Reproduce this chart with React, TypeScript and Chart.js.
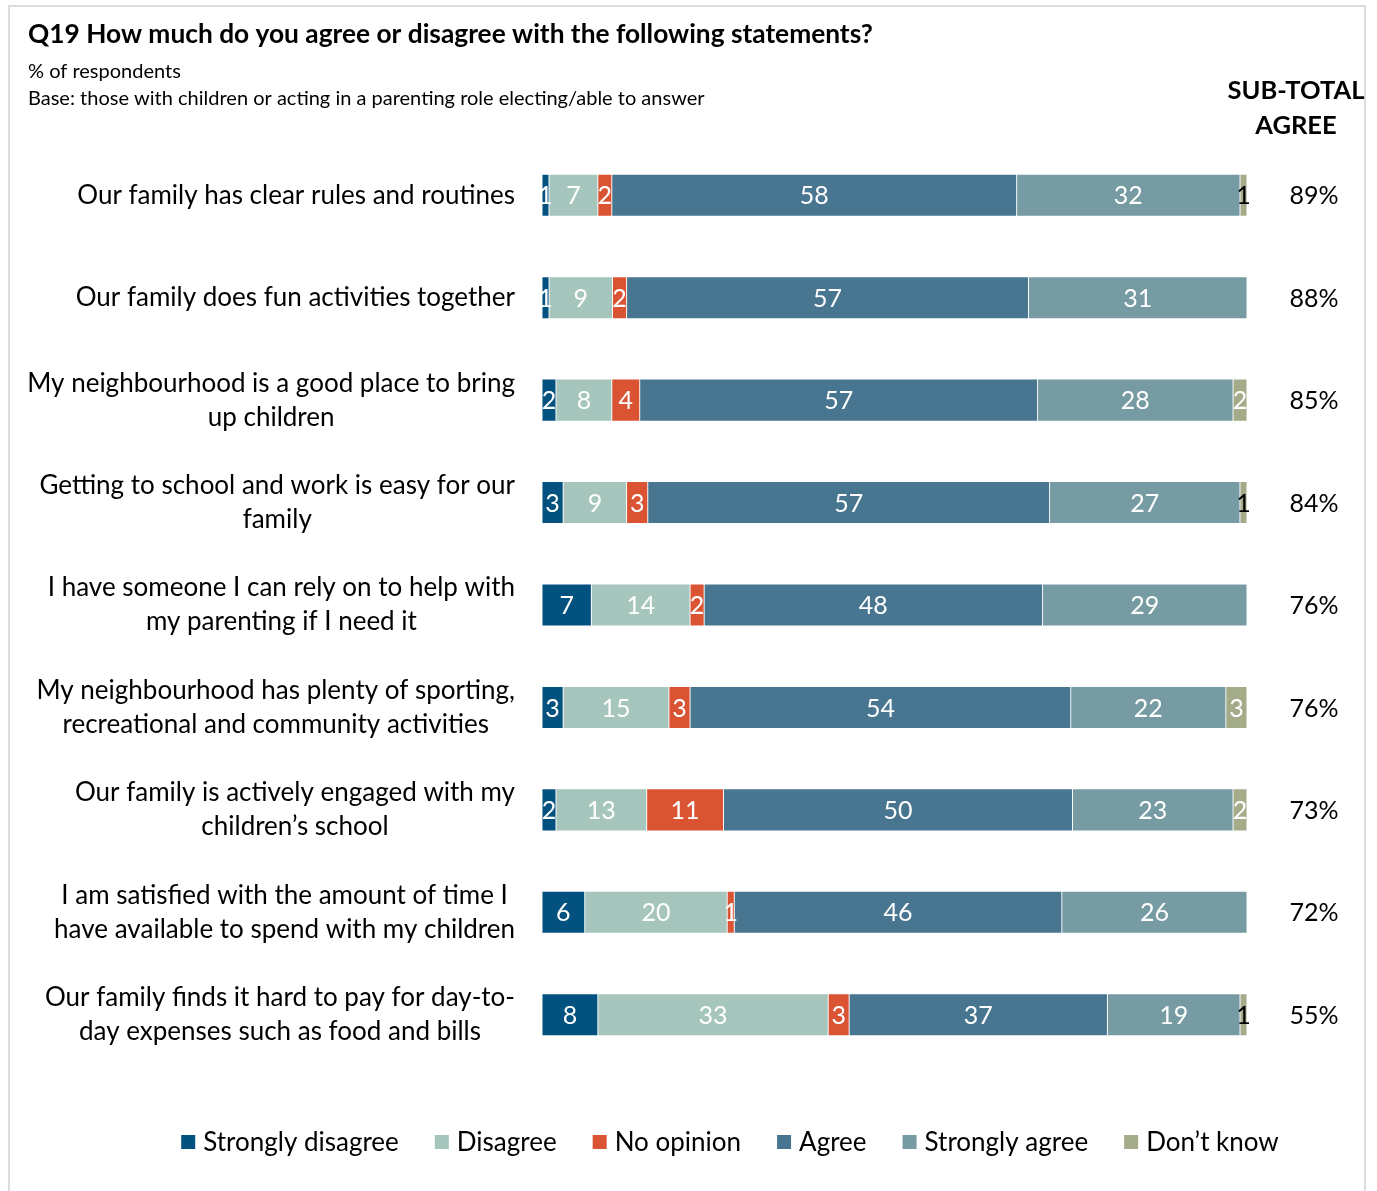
import React, { useEffect, useRef } from "react";
import { Chart, registerables } from "chart.js";

Chart.register(...registerables);

const categories: string[][] = [
  ["Our family has clear rules and routines"],
  ["Our family does fun activities together"],
  ["My neighbourhood is a good place to bring", "up children"],
  ["Getting to school and work is easy for our", "family"],
  ["I have someone I can rely on to help with", "my parenting if I need it"],
  ["My neighbourhood has plenty of sporting,", "recreational and community activities"],
  ["Our family is actively engaged with my", "children’s school"],
  ["I am satisfied with the amount of time I", "have available to spend with my children"],
  ["Our family finds it hard to pay for day-to-", "day expenses such as food and bills"],
];

const seriesNames = ["Strongly disagree", "Disagree", "No opinion", "Agree", "Strongly agree", "Don’t know"];
const stronglyDisagree = [1, 1, 2, 3, 7, 3, 2, 6, 8];
const disagree = [7, 9, 8, 9, 14, 15, 13, 20, 33];
const noOpinion = [2, 2, 4, 3, 2, 3, 11, 1, 3];
const agree = [58, 57, 57, 57, 48, 54, 50, 46, 37];
const stronglyAgree = [32, 31, 28, 27, 29, 22, 23, 26, 19];
const dontKnow = [1, 0, 2, 1, 0, 3, 2, 0, 1];
const subTotalAgree = ["89%", "88%", "85%", "84%", "76%", "76%", "73%", "72%", "55%"];

const titleText = "Q19 How much do you agree or disagree with the following statements?";
const subtitle1 = "% of respondents";
const subtitle2 = "Base: those with children or acting in a parenting role electing/able to answer";
const headerLines = ["SUB-TOTAL", "AGREE"];

const colors = ["#03517F", "#A5C5BD", "#DA5434", "#487690", "#769BA2", "#A3AB89"];
const FONT = "Lato, 'Open Sans', sans-serif";

export default function App() {
  const ref = useRef<HTMLCanvasElement | null>(null);

  useEffect(() => {
    const canvas = ref.current;
    if (!canvas) return;
    const raw = [stronglyDisagree, disagree, noOpinion, agree, stronglyAgree, dontKnow];
    const totals = categories.map((_, i) => raw.reduce((s, arr) => s + arr[i], 0));
    const datasets = raw.map((arr, k) => ({
      label: seriesNames[k],
      data: arr.map((v, i) => (v / totals[i]) * 100),
      rawValues: arr,
      backgroundColor: colors[k],
      borderColor: "rgba(255,255,255,0.45)",
      borderWidth: 0.8,
      borderSkipped: false,
      barThickness: 42,
    }));

    const decor = {
      id: "decor",
      beforeDraw(chart: any) {
        const c = chart.ctx;
        c.save();
        c.fillStyle = "#ffffff";
        c.fillRect(0, 0, chart.width, chart.height);
        c.strokeStyle = "#dcdcdc";
        c.lineWidth = 2;
        c.strokeRect(9, 6, 1356, 1200);
        c.restore();
      },
      afterDatasetsDraw(chart: any) {
        const c = chart.ctx;
        c.save();
        c.font = `25px ${FONT}`;
        c.textAlign = "center";
        c.textBaseline = "middle";
        chart.data.datasets.forEach((ds: any, k: number) => {
          const meta = chart.getDatasetMeta(k);
          meta.data.forEach((bar: any, i: number) => {
            const v = ds.rawValues[i];
            if (!v) return;
            const x = (bar.x + bar.base) / 2;
            c.fillStyle = k === 5 && v <= 1 ? "#000000" : "#ffffff";
            c.fillText(String(v), x, bar.y + 1);
          });
        });
        c.restore();
      },
      afterDraw(chart: any) {
        const c = chart.ctx;
        const yScale = chart.scales.y;
        c.save();
        // title
        c.fillStyle = "#000000";
        c.textBaseline = "middle";
        c.textAlign = "left";
        c.font = `bold 26.3px ${FONT}`;
        c.fillText(titleText, 28, 35);
        c.font = `20px ${FONT}`;
        c.fillText(subtitle1, 28, 72);
        c.fillText(subtitle2, 28, 99);
        // header
        c.textAlign = "center";
        c.font = `bold 25.5px ${FONT}`;
        c.fillText(headerLines[0], 1296, 91);
        c.fillText(headerLines[1], 1296, 126);
        // category labels
        c.font = `26px ${FONT}`;
        const lineH = 34;
        categories.forEach((lines, i) => {
          const yc = yScale.getPixelForValue(i);
          const w = Math.max(...lines.map((l) => c.measureText(l).width));
          const cx = 515 - w / 2;
          lines.forEach((l, j) => {
            const y = yc + (j - (lines.length - 1) / 2) * lineH;
            c.fillText(l, cx, y);
          });
        });
        c.font = `25px ${FONT}`;
        categories.forEach((_, i) => {
          const yc = yScale.getPixelForValue(i);
          c.fillText(subTotalAgree[i], 1314, yc + 1);
        });
        // legend
        c.font = `26px ${FONT}`;
        const box = 14, gapBox = 8, gapItem = 36;
        const widths = seriesNames.map((n) => box + gapBox + c.measureText(n).width);
        const total = widths.reduce((a, b) => a + b, 0) + gapItem * (widths.length - 1);
        let x = 730 - total / 2;
        const ly = 1142;
        c.textAlign = "left";
        seriesNames.forEach((n, k) => {
          c.fillStyle = colors[k];
          c.fillRect(x, ly - 7, box, box);
          c.fillStyle = "#000000";
          c.fillText(n, x + box + gapBox, ly + 1);
          x += widths[k] + gapItem;
        });
        c.restore();
      },
    };

    const chart = new Chart(canvas, {
      type: "bar",
      data: { labels: categories.map((l) => l.join(" ")), datasets: datasets as any },
      options: {
        indexAxis: "y",
        responsive: false,
        animation: false,
        devicePixelRatio: 1,
        layout: { padding: { top: 144, bottom: 125, right: 130, left: 0 } },
        plugins: { legend: { display: false }, tooltip: { enabled: false } },
        scales: {
          x: { stacked: true, min: 0, max: 100, display: false },
          y: {
            stacked: true,
            grid: { display: false },
            border: { display: false },
            ticks: { display: false },
            afterFit: (scale: any) => {
              scale.width = 542;
            },
          },
        },
      },
      plugins: [decor],
    });
    return () => chart.destroy();
  }, []);

  return (
    <div style={{ position: "absolute", left: 0, top: 0, width: 1377, height: 1191 }}>
      <canvas ref={ref} width={1377} height={1191} style={{ width: 1377, height: 1191, display: "block" }} />
    </div>
  );
}
